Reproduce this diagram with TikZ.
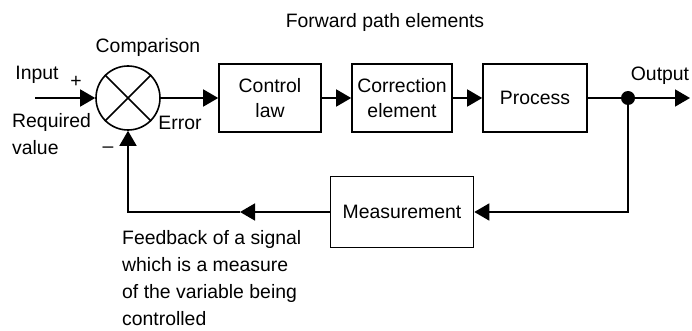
\documentclass[tikz,border=0pt]{standalone}
\usepackage{fontspec}
\setmainfont{Liberation Sans}
\usepackage{tikz}
\usetikzlibrary{positioning,calc,arrows.meta}

\begin{document}
\begin{tikzpicture}[x=1pt,y=-1pt,
    block/.style={rectangle,draw,line width=1.6pt,minimum height=68pt,inner sep=2pt,align=center,font=\fontsize{19.4}{25}\selectfont},
    sum/.style={circle,draw,line width=1.6pt,minimum size=64pt,inner sep=0pt},
    junction/.style={circle,fill,minimum size=14pt,inner sep=0pt},
    label/.style={font=\fontsize{19.4}{27}\selectfont,inner sep=0pt,align=left},
    link/.style={line width=1.6pt,-{Triangle[length=15pt,width=17pt]}},
    plain/.style={line width=1.6pt}
    ]
\useasboundingbox (0,0) rectangle (692,331);

% Comparison element
\node[sum] (S) at (128,98) {};
\draw[plain] (S.north west)--(S.south east);
\draw[plain] (S.north east)--(S.south west);

% Forward path elements
\node[block,minimum width=102pt] (CL) at (270,98) {Control\\law};
\node[block,minimum width=100pt] (CE) at (402,98) {Correction\\element};
\node[block,minimum width=104pt] (P) at (535,98) {Process};

% Feedback element
\node[block,minimum width=143pt,minimum height=71pt] (M) at (402,212) {Measurement};

\node[junction] (J) at (628,98) {};
\coordinate (in) at (35,98);
\coordinate (out) at (690,98);
\coordinate (fb) at (240,212);

% Connections
\draw[link] (in)--(S.west);
\draw[link] (S.east)--(CL.west);
\draw[link] (CL.east)--(CE.west);
\draw[link] (CE.east)--(P.west);
\draw[plain] (P.east)--(J);
\draw[link] (J)--(out);
\draw[link] (J) |- (M.east);
\draw[link] (M.west)--(fb);
\draw[link] (fb) -| (S.south);

% Labels
\node[label] (cmp) at (148,47) {Comparison};
\node[label] (fwd) at (385,22) {Forward path elements};
\node[label] (inp) at (37,75) {Input};
\node[label] (plus) at (76,82) {+};
\node[label,anchor=west] (req) at (12,134) {Required\\value};
\node[label] (err) at (180,123) {Error};
\node[label] (minus) at (108,150) {–};
\node[label] (outp) at (660,76) {Output};
\node[label,anchor=west] (fbtxt) at (122,278)
    {Feedback of a signal\\which is a measure\\of the variable being\\controlled};

\end{tikzpicture}
\end{document}
